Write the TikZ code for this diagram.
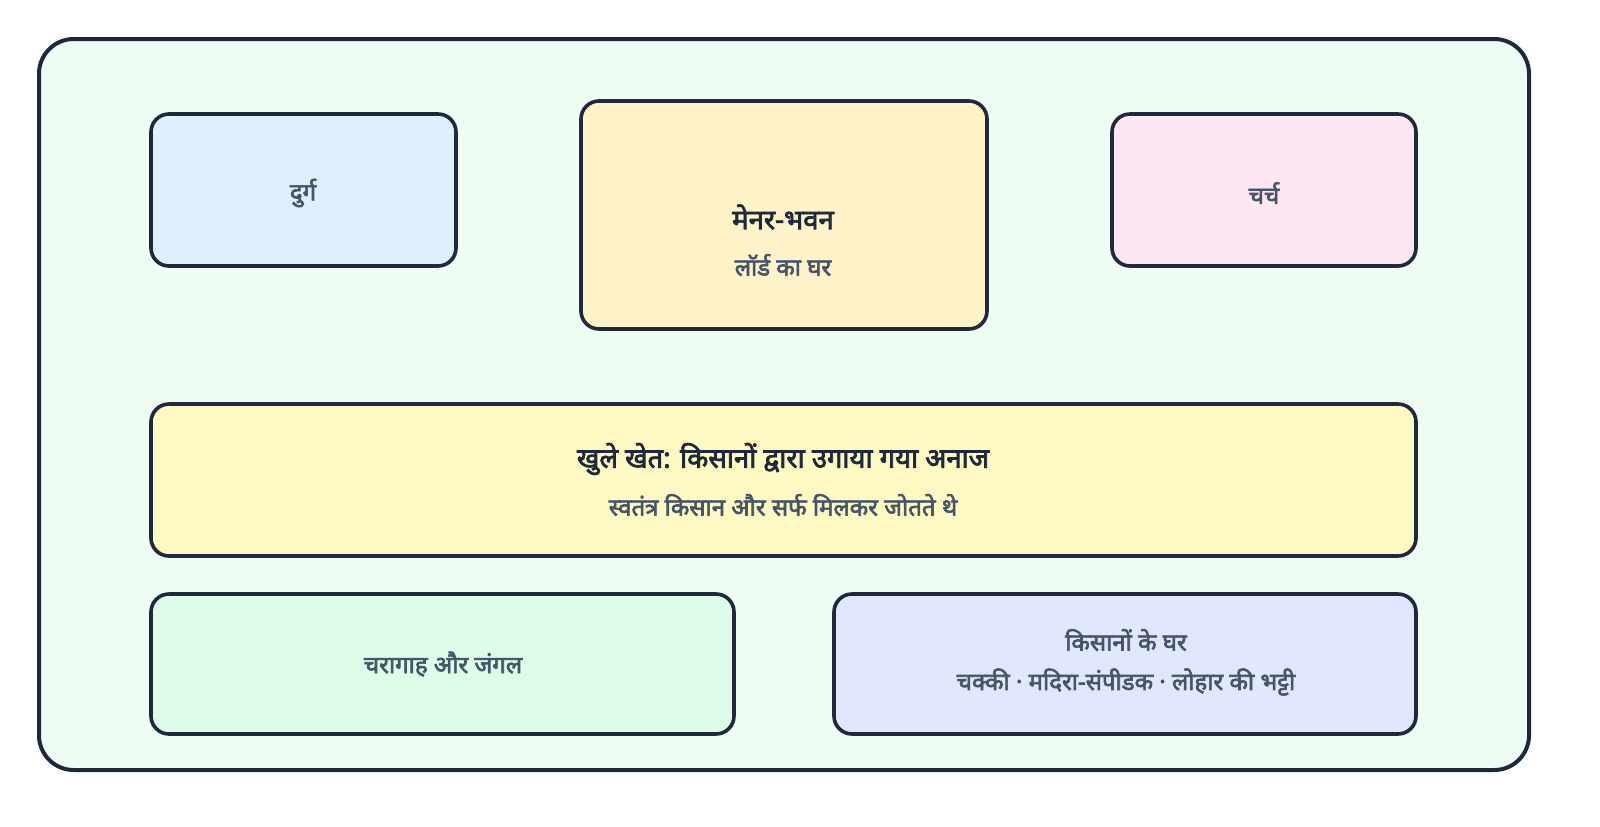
\documentclass[tikz,border=0pt]{standalone}
\usepackage{fontspec}
\newfontfamily\deva[Script=Devanagari, AutoFakeBold=2.8]{Noto Sans}
\definecolor{ink}{HTML}{1E293B}
\definecolor{sub}{HTML}{475569}
\definecolor{outerbg}{HTML}{EFFCF3}
\definecolor{bblue}{HTML}{DFF0FD}
\definecolor{bamber}{HTML}{FDF2C8}
\definecolor{bpink}{HTML}{FCE7F3}
\definecolor{byellow}{HTML}{FEF9C3}
\definecolor{bgreen}{HTML}{DCFCE7}
\definecolor{bindigo}{HTML}{E0E7FF}
\tikzset{
  boxst/.style={draw=ink, line width=2.7pt, rounded corners=13.5pt},
  ttl/.style={font=\deva\bfseries\fontsize{20.6}{24}\selectfont, text=ink, inner sep=0pt},
  lbl/.style={font=\deva\bfseries\fontsize{18}{21}\selectfont, text=sub, inner sep=0pt},
}
\begin{document}
\begin{tikzpicture}[x=0.75pt,y=-0.75pt]
\useasboundingbox (0,0) rectangle (1600,826);
\fill[white] (0,0) rectangle (1600,826);
\draw[draw=ink, fill=outerbg, line width=3pt, rounded corners=26pt] (39,39) rectangle (1529,770);
% boxes
\draw[boxst, fill=bblue] (151,114) rectangle (456,266);
\draw[boxst, fill=bamber] (581,101) rectangle (987,329);
\draw[boxst, fill=bpink] (1112,114) rectangle (1416,266);
\draw[boxst, fill=byellow] (151,404) rectangle (1416,556);
\draw[boxst, fill=bgreen] (151,594) rectangle (734,734);
\draw[boxst, fill=bindigo] (834,594) rectangle (1416,734);
% texts
\node[lbl] (durg) at (303,193) {दुर्ग};
\node[ttl] (manor) at (783,217) {मेनर-भवन};
\node[lbl] (manorsub) at (783,265) {लॉर्ड का घर};
\node[lbl] (church) at (1264,193) {चर्च};
\node[ttl] (field) at (783,459) {खुले खेत: किसानों द्वारा उगाया गया अनाज};
\node[lbl] (fieldsub) at (783,505) {स्वतंत्र किसान और सर्फ मिलकर जोतते थे};
\node[lbl] (pasture) at (443,664) {चरागाह और जंगल};
\node[lbl] (houses) at (1126,640) {किसानों के घर};
\node[lbl] (housesub) at (1126,682) {चक्की · मदिरा-संपीडक · लोहार की भट्टी};
\end{tikzpicture}
\end{document}
